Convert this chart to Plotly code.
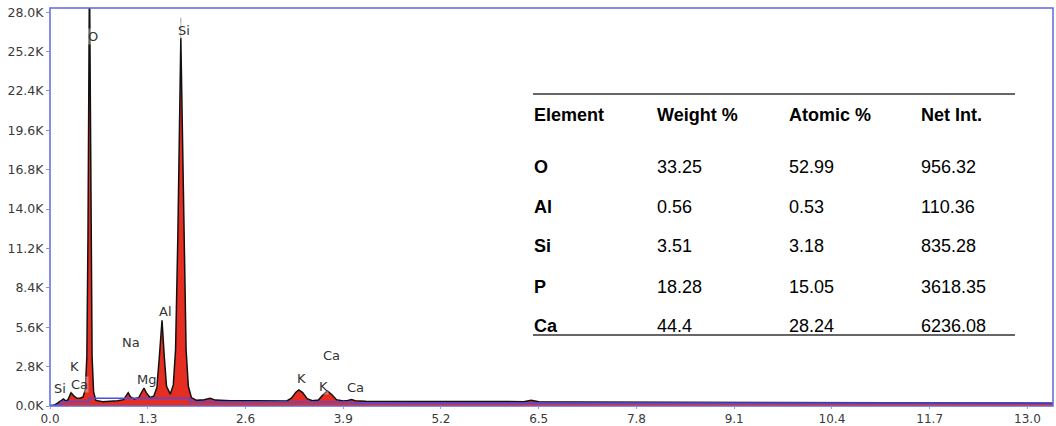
import plotly.graph_objects as go

# EDS spectrum: energy (keV) vs counts (thousands)
energy_kev = [
    0.00, 0.05, 0.10, 0.15, 0.18, 0.21, 0.24, 0.28, 0.32, 0.36, 0.40, 0.44,
    0.47, 0.49, 0.505, 0.525, 0.545, 0.56, 0.58, 0.61, 0.70, 0.80, 0.90, 0.98,
    1.01, 1.04, 1.07, 1.12, 1.18, 1.22, 1.25, 1.28, 1.33, 1.38, 1.42, 1.45,
    1.49, 1.52, 1.55, 1.60, 1.64, 1.67, 1.70, 1.74, 1.78, 1.81, 1.84, 1.88,
    1.95, 2.05, 2.13, 2.20, 2.40, 2.80, 3.15, 3.21, 3.27, 3.31, 3.36, 3.42,
    3.49, 3.57, 3.63, 3.69, 3.75, 3.81, 3.90, 3.96, 4.01, 4.06, 4.20, 5.00,
    6.00, 6.30, 6.40, 6.50, 7.00, 9.00, 11.0, 13.4,
]
counts_k = [
    0.00, 0.05, 0.20, 0.35, 0.50, 0.35, 0.45, 0.95, 0.70, 0.55, 0.55, 0.65,
    1.20, 3.50, 12.0, 31.0, 12.0, 3.50, 1.00, 0.40, 0.30, 0.33, 0.38, 0.45,
    0.70, 0.95, 0.65, 0.50, 0.60, 1.00, 1.28, 0.95, 0.60, 0.70, 1.30, 3.20,
    6.10, 3.50, 1.40, 0.85, 1.50, 4.00, 12.0, 26.2, 12.0, 4.00, 1.40, 0.60,
    0.40, 0.45, 0.55, 0.42, 0.38, 0.36, 0.36, 0.55, 0.98, 1.14, 0.95, 0.52,
    0.37, 0.42, 0.80, 1.07, 0.80, 0.45, 0.36, 0.40, 0.46, 0.38, 0.34, 0.32,
    0.30, 0.31, 0.40, 0.30, 0.28, 0.25, 0.22, 0.20,
]

# Background fit
bg_energy_kev = [0.00, 0.15, 0.50, 0.52, 1.83, 1.86, 4.00, 13.4]
bg_counts_k = [0.05, 0.30, 0.35, 0.55, 0.55, 0.28, 0.22, 0.12]

# Element line labels: text, energy (keV), label height (K counts)
line_labels = ["O", "Si", "Al", "Na", "Mg", "K", "Ca", "Si", "K", "Ca", "K", "Ca"]
line_label_x = [0.57, 1.78, 1.53, 1.08, 1.28, 0.32, 0.39, 0.13, 3.35, 3.74, 3.64, 4.06]
line_label_y = [26.3, 26.7, 6.7, 4.55, 1.85, 2.84, 1.56, 1.21, 1.99, 3.62, 1.42, 1.35]

# Marker line above the Si peak
si_marker_kev = [1.74, 1.74]
si_marker_k = [26.2, 27.6]

# Axis ticks
x_ticks = [0.0, 1.3, 2.6, 3.9, 5.2, 6.5, 7.8, 9.1, 10.4, 11.7, 13.0]
y_ticks = [0.0, 2.8, 5.6, 8.4, 11.2, 14.0, 16.8, 19.6, 22.4, 25.2, 28.0]
y_tick_text = ["0.0K", "2.8K", "5.6K", "8.4K", "11.2K", "14.0K",
               "16.8K", "19.6K", "22.4K", "25.2K", "28.0K"]

# Quantification table
table_header = ["Element", "Weight %", "Atomic %", "Net Int."]
table_elements = ["O", "Al", "Si", "P", "Ca"]
weight_pct = ["33.25", "0.56", "3.51", "18.28", "44.4"]
atomic_pct = ["52.99", "0.53", "3.18", "15.05", "28.24"]
net_int = ["956.32", "110.36", "835.28", "3618.35", "6236.08"]

FRAME = "#5c69e2"
TICK_FONT = dict(family="DejaVu Sans", size=12, color="#3a3a3a")

fig = go.Figure()

fig.add_trace(go.Scatter(
    x=energy_kev, y=counts_k, mode="lines", fill="tozeroy",
    fillcolor="#e62d22", line=dict(color="#111111", width=1.5),
    hoverinfo="skip", showlegend=False,
))
fig.add_trace(go.Scatter(
    x=bg_energy_kev, y=bg_counts_k, mode="lines", line_shape="hv",
    line=dict(color="#4a4ee6", width=1.5),
    hoverinfo="skip", showlegend=False,
))
fig.add_trace(go.Scatter(
    x=si_marker_kev, y=si_marker_k, mode="lines",
    line=dict(color="#9a9a9a", width=1),
    hoverinfo="skip", showlegend=False,
))

# Peak labels
for txt, ex, ey in zip(line_labels, line_label_x, line_label_y):
    fig.add_annotation(
        x=ex, y=ey, xref="x", yref="y", text=txt, showarrow=False,
        font=dict(family="DejaVu Sans", size=13, color="#333333"),
        bgcolor="rgba(255,255,255,0.35)", borderpad=0,
    )

# Table placed in paper coordinates of the plotting area
L, T, W, H = 50, 8, 1003, 398  # plot area in pixels


def px(xp):
    return (xp - L) / W


def py(yp):
    return (T + H - yp) / H


col_x = [532, 655, 787, 919]
header_y = 115
row_y = [167, 207, 246, 287, 326]
TABLE_FONT = "Liberation Sans, Arial, sans-serif"
TABLE_SIZE = 18

for cx, txt in zip(col_x, table_header):
    fig.add_annotation(
        x=px(cx), y=py(header_y), xref="paper", yref="paper", text=f"<b>{txt}</b>",
        showarrow=False, xanchor="left", yanchor="middle",
        font=dict(family=TABLE_FONT, size=TABLE_SIZE, color="#000000"),
    )

for ry, el, w, a, n in zip(row_y, table_elements, weight_pct, atomic_pct, net_int):
    cells = [f"<b>{el}</b>", w, a, n]
    for cx, txt in zip(col_x, cells):
        fig.add_annotation(
            x=px(cx), y=py(ry), xref="paper", yref="paper", text=txt,
            showarrow=False, xanchor="left", yanchor="middle",
            font=dict(family=TABLE_FONT, size=TABLE_SIZE, color="#000000"),
        )

for ly in (94, 335):
    fig.add_shape(
        type="line", xref="paper", yref="paper",
        x0=px(533), x1=px(1015), y0=py(ly), y1=py(ly),
        line=dict(color="#333333", width=1.6),
    )

# Plot frame
fig.add_shape(
    type="rect", xref="paper", yref="paper", x0=0, x1=1, y0=0, y1=1,
    line=dict(color=FRAME, width=1.5), layer="above",
)

fig.update_layout(
    width=1056, height=426,
    margin=dict(l=L, r=1056 - L - W, t=T, b=426 - T - H, autoexpand=False),
    paper_bgcolor="white", plot_bgcolor="white",
    xaxis=dict(
        range=[0, 13.34], tickvals=x_ticks, ticktext=[f"{v:.1f}" for v in x_ticks],
        showgrid=False, zeroline=False, showline=False, automargin=False,
        ticks="outside", ticklen=2, tickcolor="#8fa0e8", tickfont=TICK_FONT,
        ticklabelstandoff=0,
    ),
    yaxis=dict(
        range=[0, 28.3], tickvals=y_ticks, ticktext=y_tick_text,
        showgrid=False, zeroline=False, showline=False, automargin=False,
        ticks="outside", ticklen=3, tickcolor="#999999",
        tickfont=dict(family="DejaVu Sans", size=12.5, color="#3a3a3a"),
    ),
)

fig.write_html("out.html")
